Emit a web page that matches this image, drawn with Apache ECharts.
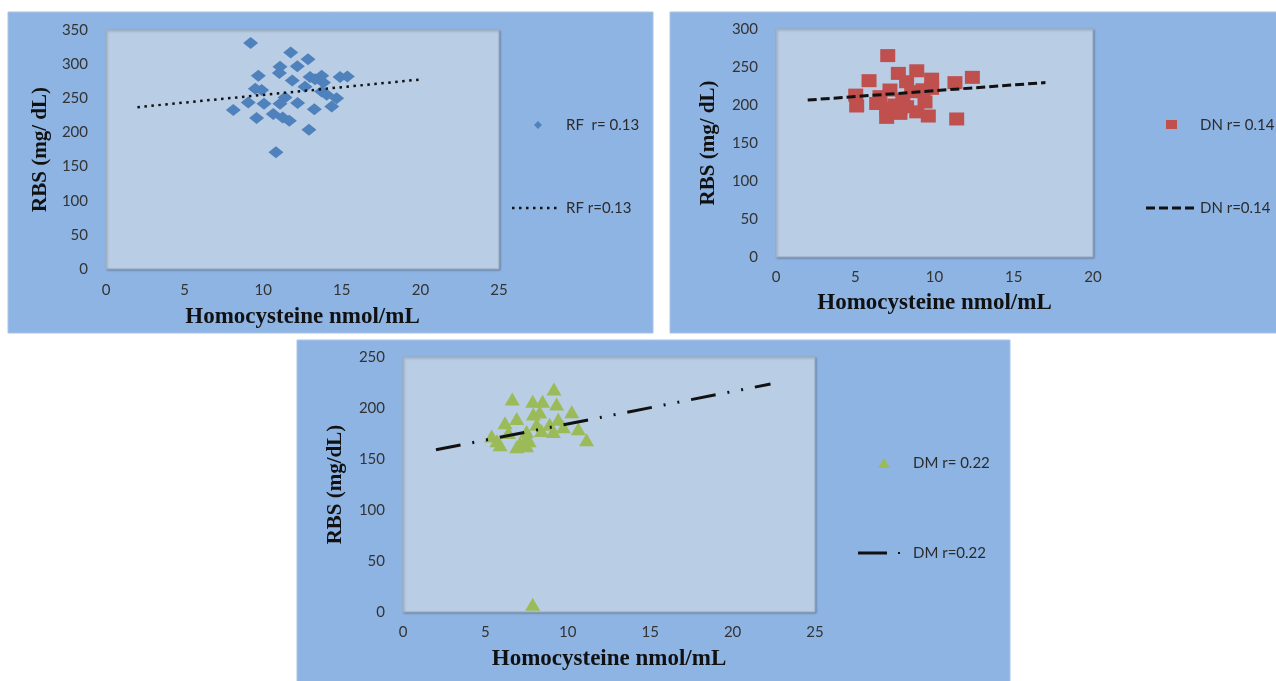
<!DOCTYPE html>
<html>
<head>
<meta charset="utf-8">
<script src="https://cdn.jsdelivr.net/npm/echarts@6/dist/echarts.min.js"></script>
<style>
html,body{margin:0;padding:0;background:#fff;}
#c{width:1276px;height:681px;}
</style>
</head>
<body>
<div id="c"></div>
<script>
// ---------- data ----------
const rfName = 'RF  r= 0.13';
const rfTrendName = 'RF r=0.13';
const dnName = 'DN r= 0.14';
const dnTrendName = 'DN r=0.14';
const dmName = 'DM r= 0.22';
const dmTrendName = 'DM r=0.22';

const rfX = [9.2, 11.75, 12.85, 11.07, 12.17, 11.03, 9.69, 11.85, 12.98, 13.72, 14.89, 15.35, 13.83, 13.3, 12.66, 9.5, 9.9, 13.72, 14.04, 11.39, 14.67, 9.05, 10.05, 11.07, 12.19, 14.36, 8.1, 13.25, 10.64, 9.58, 11.24, 11.66, 12.91, 10.81];
const rfY = [331, 317, 307, 296, 297, 287, 283, 276, 281, 283, 281, 282, 273, 278, 267, 264, 262, 260, 255, 251, 250, 244, 242, 242, 243, 238, 233, 234, 227, 221, 222, 217, 204, 171];

const dnX = [7.05, 5.87, 7.72, 8.88, 9.82, 11.29, 12.39, 8.24, 7.19, 5.03, 9.82, 8.56, 5.09, 6.35, 7.51, 9.4, 7.82, 8.88, 6.98, 9.61, 11.4, 8.0, 6.56, 9.27, 7.82, 8.24, 6.98];
const dnY = [265, 232, 241.6, 245, 234, 229.4, 236.4, 230.6, 219.7, 213, 221.9, 217.5, 198.7, 202, 200, 204, 195.7, 191, 183.7, 185.5, 181.6, 207, 211, 220, 189, 197.8, 195.6];

const dmX = [9.16, 6.63, 7.87, 8.47, 9.32, 10.24, 7.91, 8.3, 6.9, 6.19, 9.42, 8.11, 8.9, 9.73, 10.64, 5.38, 6.4, 7.5, 9.12, 11.14, 5.89, 7.1, 7.66, 8.4, 5.7, 6.9, 7.5, 7.5, 7.87];
const dmY = [218.6, 208.8, 206.5, 206.5, 203.9, 196.4, 194, 196, 189.6, 185.6, 188.9, 184, 184, 181.7, 179.7, 172.5, 176, 177, 177, 168.9, 164, 165.7, 168, 178, 168, 162, 163, 171.6, 7.5];

const rfTrendX = [2, 20];
const rfTrendY = [237, 277.5];
const dnTrendX = [2, 17];
const dnTrendY = [206.5, 229.5];
const dmTrendX = [2, 22.3];
const dmTrendY = [159, 223.5];

const rfXTicks = [0, 5, 10, 15, 20, 25];
const rfYTicks = [0, 50, 100, 150, 200, 250, 300, 350];
const dnXTicks = [0, 5, 10, 15, 20];
const dnYTicks = [0, 50, 100, 150, 200, 250, 300];
const dmXTicks = [0, 5, 10, 15, 20, 25];
const dmYTicks = [0, 50, 100, 150, 200, 250];

const xTitle = 'Homocysteine nmol/mL';
const yTitle12 = 'RBS (mg/ dL)';
const yTitle3 = 'RBS (mg/dL)';

// ---------- styles ----------
const panelColor = '#8EB4E3';
const plotColor = '#B9CDE5';
const rfColor = '#4F81BD';
const dnColor = '#C0504D';
const dmColor = '#9BBB59';
const rfDash = [2.5, 4.5];
const dnDash = [9, 4];
const dmDash = [25, 12, 2, 12, 2, 12];

const zip = (a, b) => a.map((v, i) => [v, b[i]]);

function xAxisOf(ticks, gridIndex, gap, margin) {
  return {
    type: 'value', gridIndex,
    min: ticks[0], max: ticks[ticks.length - 1], interval: ticks[1] - ticks[0],
    axisLine: {show: false}, axisTick: {show: false}, splitLine: {show: false},
    axisLabel: {color: '#333', fontFamily: 'Lato', fontSize: 15, margin},
    name: xTitle, nameLocation: 'middle', nameGap: gap,
    nameTextStyle: {fontFamily: 'Liberation Serif', fontWeight: 'bold', fontSize: 23, color: '#111'}
  };
}
function yAxisOf(ticks, gridIndex, title, gap) {
  return {
    type: 'value', gridIndex,
    min: ticks[0], max: ticks[ticks.length - 1], interval: ticks[1] - ticks[0],
    axisLine: {show: false}, axisTick: {show: false}, splitLine: {show: false},
    axisLabel: {color: '#333', fontFamily: 'Lato', fontSize: 15, margin: 18},
    name: title, nameLocation: 'middle', nameGap: gap, nameRotate: 90,
    nameTextStyle: {fontFamily: 'Liberation Serif', fontWeight: 'bold', fontSize: 21, color: '#111'}
  };
}
const gridStyle = {show: true, backgroundColor: plotColor, borderColor: '#9FADBD', borderWidth: 1,
  shadowColor: 'rgba(0,0,0,0.25)', shadowBlur: 2, shadowOffsetX: 1, shadowOffsetY: 1};

const textStyle = {fill: '#2b2b2b', fontFamily: 'Lato', fontSize: 15, verticalAlign: 'middle'};

const option = {
  backgroundColor: '#ffffff',
  animation: false,
  grid: [
    Object.assign({left: 106, top: 30, width: 393, height: 239}, gridStyle),
    Object.assign({left: 776, top: 29, width: 317, height: 228}, gridStyle),
    Object.assign({left: 403, top: 357, width: 412, height: 255}, gridStyle)
  ],
  xAxis: [xAxisOf(rfXTicks, 0, 37, 14), xAxisOf(dnXTicks, 1, 35, 13), xAxisOf(dmXTicks, 2, 36, 13)],
  yAxis: [yAxisOf(rfYTicks, 0, yTitle12, 55), yAxisOf(dnYTicks, 1, yTitle12, 57), yAxisOf(dmYTicks, 2, yTitle3, 57)],
  graphic: [
    {type: 'rect', z: -10, shape: {x: 8, y: 12, width: 645, height: 321}, style: {fill: panelColor, stroke: '#a9c4e8', lineWidth: 1}},
    {type: 'rect', z: -10, shape: {x: 670, y: 12, width: 610, height: 321}, style: {fill: panelColor, stroke: '#a9c4e8', lineWidth: 1}},
    {type: 'rect', z: -10, shape: {x: 297, y: 340, width: 713, height: 345}, style: {fill: panelColor, stroke: '#a9c4e8', lineWidth: 1}},
    // legend panel 1
    {type: 'polygon', shape: {points: [[538, 121], [542, 125], [538, 129], [534, 125]]}, style: {fill: rfColor}},
    {type: 'text', x: 566, y: 125, style: Object.assign({text: rfName}, textStyle)},
    {type: 'line', shape: {x1: 512, y1: 208, x2: 558, y2: 208}, style: {stroke: '#111', lineWidth: 2.5, lineDash: rfDash}},
    {type: 'text', x: 566, y: 208, style: Object.assign({text: rfTrendName}, textStyle)},
    // legend panel 2
    {type: 'rect', shape: {x: 1166, y: 120, width: 11, height: 9}, style: {fill: dnColor}},
    {type: 'text', x: 1200, y: 125, style: Object.assign({text: dnName}, textStyle)},
    {type: 'line', shape: {x1: 1146, y1: 208, x2: 1195, y2: 208}, style: {stroke: '#111', lineWidth: 3, lineDash: dnDash}},
    {type: 'text', x: 1200, y: 208, style: Object.assign({text: dnTrendName}, textStyle)},
    // legend panel 3
    {type: 'polygon', shape: {points: [[884, 458], [890, 468], [878, 468]]}, style: {fill: dmColor}},
    {type: 'text', x: 913, y: 463, style: Object.assign({text: dmName}, textStyle)},
    {type: 'line', shape: {x1: 858, y1: 553, x2: 887, y2: 553}, style: {stroke: '#111', lineWidth: 3}},
    {type: 'rect', shape: {x: 898, y: 552, width: 2, height: 2}, style: {fill: '#111'}},
    {type: 'text', x: 913, y: 553, style: Object.assign({text: dmTrendName}, textStyle)}
  ],
  series: [
    {name: rfName, type: 'scatter', xAxisIndex: 0, yAxisIndex: 0, data: zip(rfX, rfY),
     symbol: 'diamond', symbolSize: [15, 12], itemStyle: {color: rfColor, opacity: 1}},
    {name: rfTrendName, type: 'line', xAxisIndex: 0, yAxisIndex: 0, data: zip(rfTrendX, rfTrendY),
     showSymbol: false, lineStyle: {color: '#111', width: 2.5, type: rfDash}},
    {name: dnName, type: 'scatter', xAxisIndex: 1, yAxisIndex: 1, data: zip(dnX, dnY),
     symbol: 'rect', symbolSize: [15, 13], itemStyle: {color: dnColor, opacity: 1}},
    {name: dnTrendName, type: 'line', xAxisIndex: 1, yAxisIndex: 1, data: zip(dnTrendX, dnTrendY),
     showSymbol: false, lineStyle: {color: '#111', width: 3, type: dnDash}},
    {name: dmName, type: 'scatter', xAxisIndex: 2, yAxisIndex: 2, data: zip(dmX, dmY),
     symbol: 'triangle', symbolSize: [15, 13], itemStyle: {color: dmColor, opacity: 1}},
    {name: dmTrendName, type: 'line', xAxisIndex: 2, yAxisIndex: 2, data: zip(dmTrendX, dmTrendY),
     showSymbol: false, lineStyle: {color: '#111', width: 3, type: dmDash}}
  ]
};
const chart = echarts.init(document.getElementById('c'), null, {renderer: 'canvas'});
chart.setOption(option);
</script>
</body>
</html>
